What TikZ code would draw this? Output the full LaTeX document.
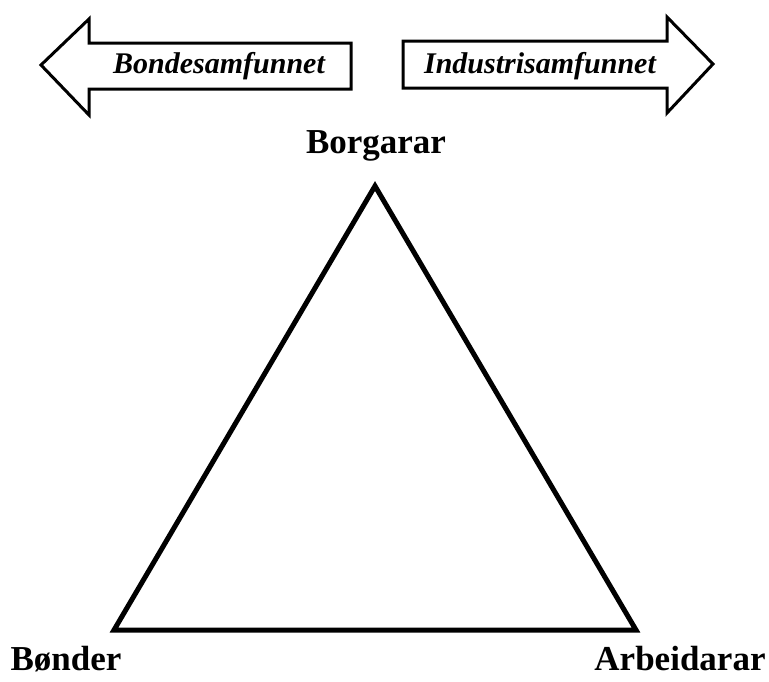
\documentclass[tikz,border=0pt]{standalone}
\usepackage{fontspec}
\setmainfont{Liberation Serif}

\begin{document}
\begin{tikzpicture}[x=1pt, y=-1pt,
    klasse/.style={font=\fontsize{35}{40}\selectfont\bfseries, anchor=base, inner sep=0pt},
    epoke/.style={font=\fontsize{30}{36}\selectfont\bfseries\itshape, anchor=base},
    pil/.style={draw, line width=3pt, line join=miter, fill=white}]
      \useasboundingbox (0,0) rectangle (769,681);
      % arrows on top
      \draw[pil] (41,65) -- (89,19) -- (89,43) -- (351,43) -- (351,89) -- (89,89) -- (89,115) -- cycle;
      \draw[pil] (713,64) -- (667,17) -- (667,41) -- (403,41) -- (403,88) -- (667,88) -- (667,113) -- cycle;
      \node[epoke] (bonde) at (219,73) {Bondesamfunnet};
      \node[epoke] (industri) at (540,73) {Industrisamfunnet};
      % the triangle
      \coordinate (top) at (375,186);
      \coordinate (venstre) at (114,630);
      \coordinate (hogre) at (636,630);
      \draw[line width=5pt] (top) -- (venstre) -- (hogre) -- cycle;
      \node[klasse] (borgarar) at (376,153) {Borgarar};
      \node[klasse] (bonder) at (66,670) {Bønder};
      \node[klasse] (arbeidarar) at (680,670) {Arbeidarar};
\end{tikzpicture}
\end{document}
